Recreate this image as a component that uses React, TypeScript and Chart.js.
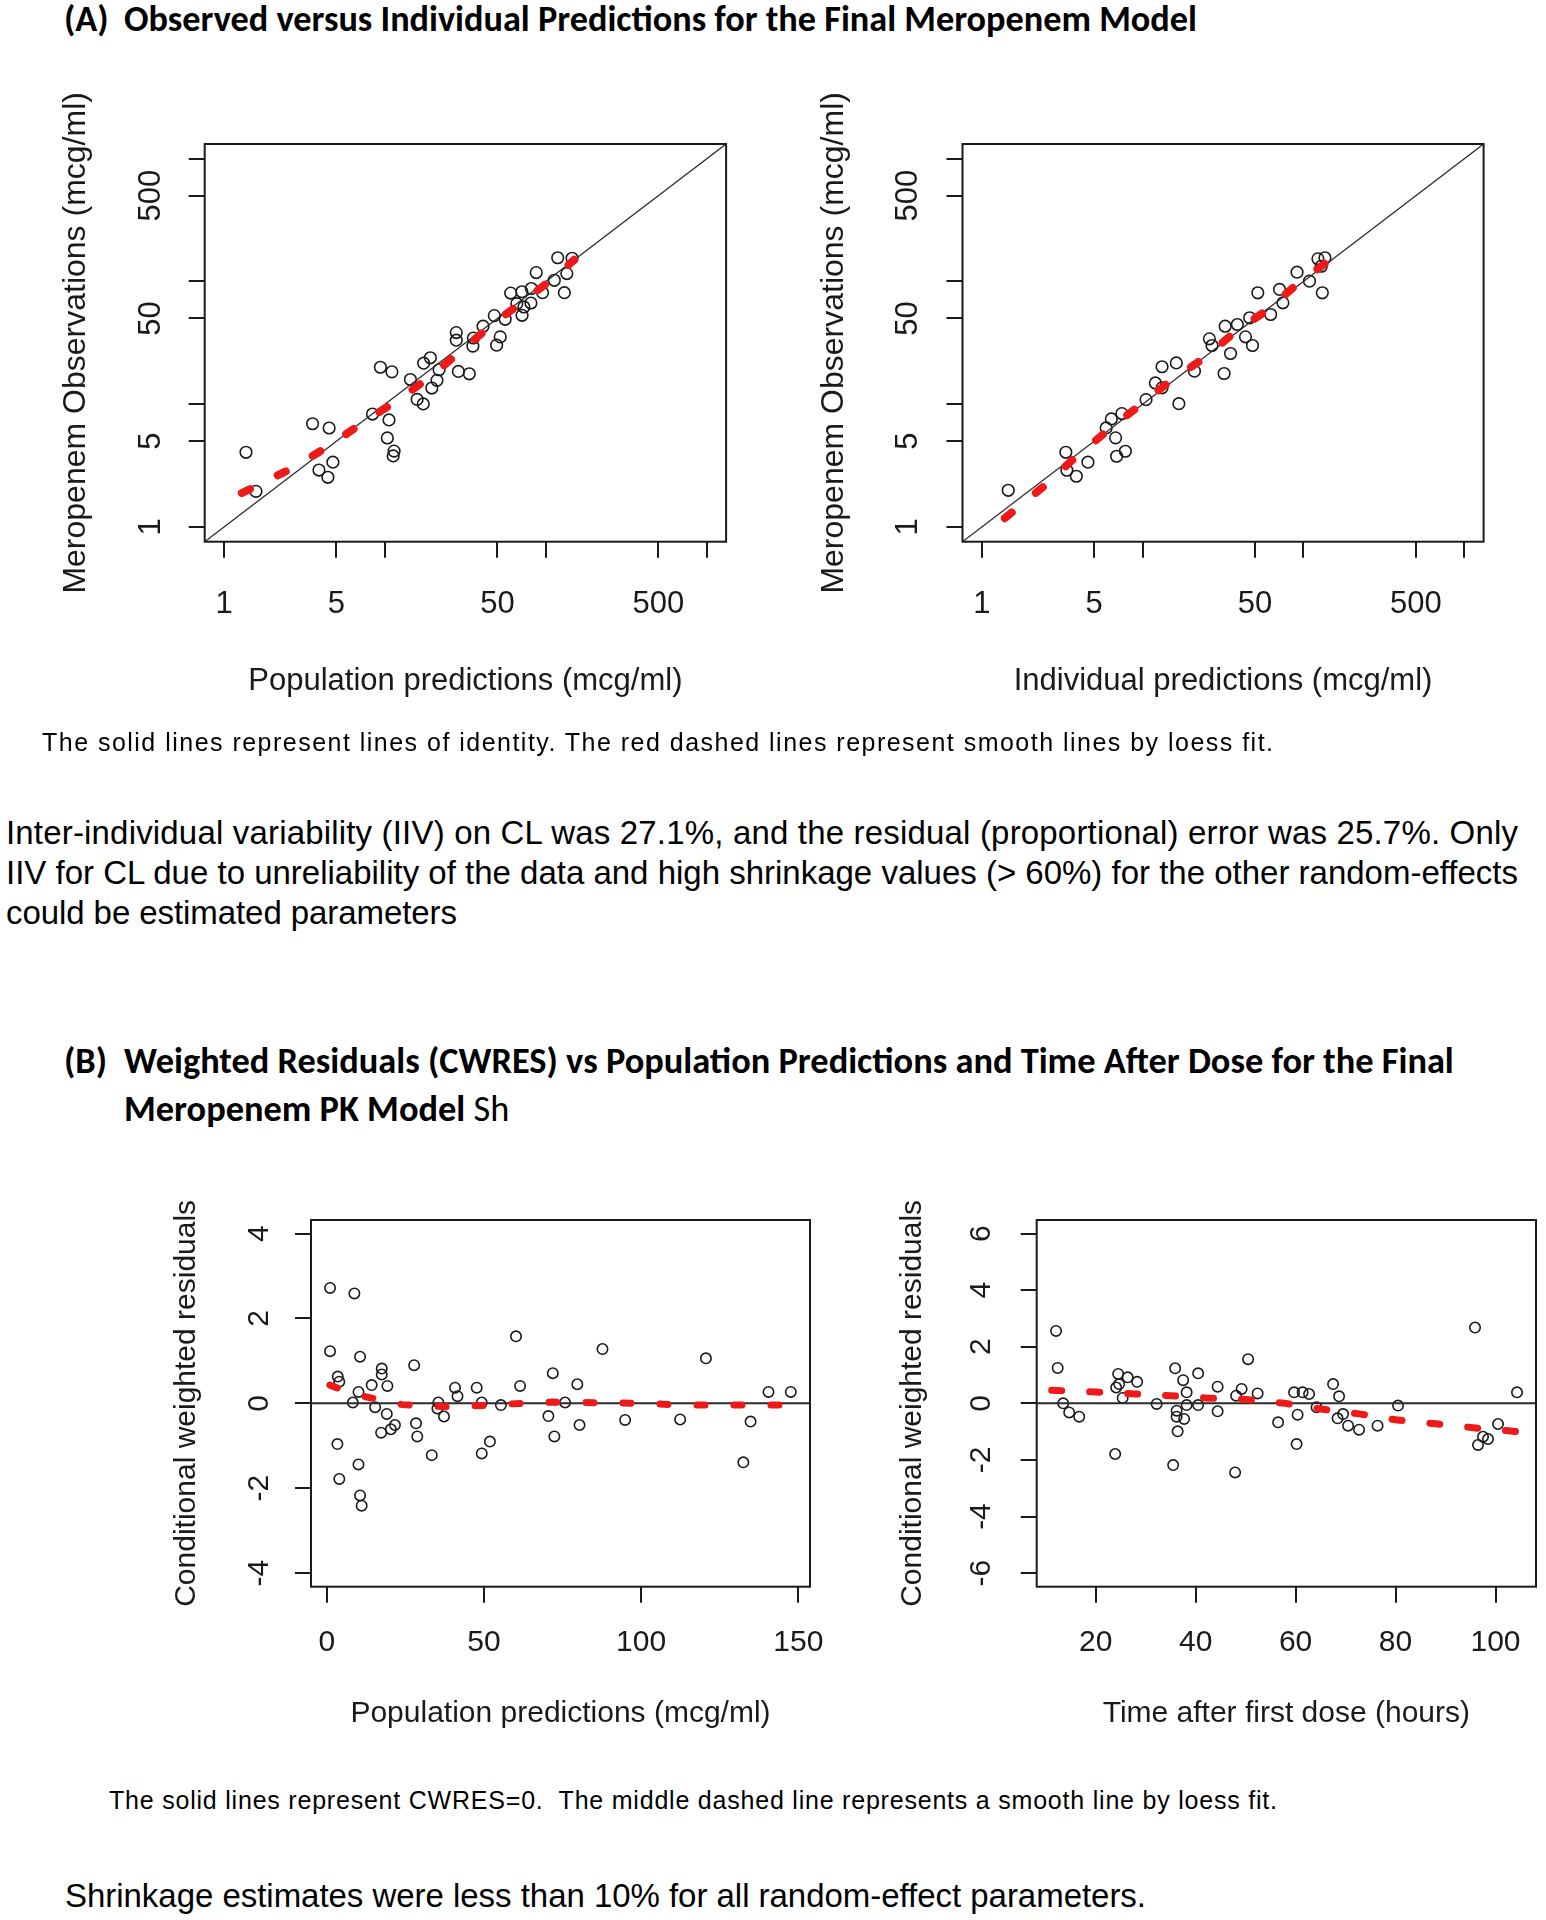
import React, { useEffect, useLayoutEffect, useRef } from "react";
import { Chart, registerables } from "chart.js";
Chart.register(...registerables);

const FONT = '"Liberation Sans", Arial, Helvetica, sans-serif';
const HEAD = 'Carlito, Lato, "Open Sans", sans-serif';
const RED = "#ee1a1a";
const INK = "#1a1a1a";

// ---------- (A) left: observed vs population predictions (mcg/ml)
const popPredX = [1.37, 1.58, 3.55, 4.5, 3.89, 4.42, 4.75, 8.37, 10.6, 10.35, 11.4, 11.25, 9.37, 11.05, 14.4, 15.85, 17.3, 17.4, 19.15, 21.7, 21.05, 19.55, 28.6, 33.45, 27.75, 27.75, 35.2, 35.45, 40.7, 47.8, 55.85, 52.05, 49.45, 60.45, 71.0, 81.2, 80.75, 71.15, 95.4, 87.15, 112.8, 130.3, 135, 118.5, 145.5, 66, 73];
const popObsY = [4.06, 1.95, 6.93, 6.4, 2.91, 2.54, 3.37, 8.32, 7.45, 5.31, 4.15, 3.79, 20.0, 18.35, 15.9, 10.95, 10.05, 21.6, 23.9, 19.1, 15.65, 13.55, 18.5, 17.7, 38.35, 33.25, 29.75, 34.65, 43.2, 52.7, 49.2, 35.35, 30.3, 80.45, 82.45, 87.65, 66.75, 53.0, 81.05, 118.15, 102.25, 81.05, 116, 156, 154.5, 66, 62];
const popLoessX = [1.29, 2.8, 4.62, 7.45, 12.2, 19.3, 30.4, 47.7, 75, 112, 150];
const popLoessY = [1.89, 3.12, 4.69, 7.22, 10.9, 16.9, 27.9, 46.0, 71.3, 107, 150];

// ---------- (A) right: observed vs individual predictions (mcg/ml)
const indPredX = [1.46, 3.33, 3.38, 3.87, 4.57, 6.89, 7.81, 5.93, 6.39, 7.43, 6.79, 10.5, 12.0, 13.2, 13.2, 16.2, 16.8, 21.0, 26.0, 27.0, 35.2, 32.1, 32.6, 38.8, 43.6, 48.2, 46.3, 52.0, 62.5, 71.0, 74.5, 91.2, 109, 123, 136, 129, 131];
const indObsY = [1.99, 4.06, 2.9, 2.59, 3.37, 3.77, 4.14, 6.41, 7.59, 8.39, 5.32, 10.9, 14.9, 13.6, 20.2, 21.7, 10.1, 18.6, 34.1, 30.1, 25.9, 17.8, 43.2, 44.6, 35.4, 30.1, 50.6, 80.9, 53.8, 86.1, 67.0, 119, 100.6, 153, 156, 133, 80.9];
const indLoessX = [1.39, 2.44, 3.78, 5.99, 9.55, 14.6, 24.7, 37, 58.9, 91, 147];
const indLoessY = [1.18, 2.15, 3.65, 6.03, 9.75, 15.2, 24.3, 38.2, 58, 94.6, 151];

// ---------- (B) left: CWRES vs population predictions
const cwPredX = [1.06, 1.06, 3.5, 4.0, 3.4, 4.0, 8.8, 10.6, 10.1, 8.3, 10.1, 10.6, 11.1, 14.3, 17.5, 17.5, 19.3, 15.4, 19.1, 21.7, 20.4, 17.3, 27.8, 28.4, 28.8, 33.4, 35.5, 35.2, 37.3, 40.8, 41.6, 47.7, 49.3, 51.9, 49.3, 55.4, 60.2, 61.5, 70.5, 72.4, 71.9, 75.8, 79.7, 80.4, 87.7, 94.9, 112.4, 120.6, 132.5, 134.8, 140.5, 147.6];
const cwPredY = [2.72, 1.23, 0.63, 0.51, -0.96, -1.78, 2.59, 1.1, 0.27, 0.02, -1.44, -2.17, -2.41, 0.43, 0.82, 0.68, 0.41, -0.09, -0.25, -0.51, -0.61, -0.69, 0.9, -0.47, -0.78, -1.22, 0.02, -0.12, -0.31, 0.37, 0.17, 0.37, 0.02, -0.9, -1.18, -0.04, 1.58, 0.41, -0.3, -0.78, 0.71, 0.02, 0.45, -0.51, 1.28, -0.39, -0.38, 1.06, -1.39, -0.43, 0.27, 0.27];
const cwLoessX = [1, 5.3, 12.2, 17, 24, 30, 38, 44, 52, 62, 72, 80, 90, 100, 110, 120, 135, 148];
const cwLoessY = [0.43, 0.31, 0.16, 0.08, -0.03, -0.05, -0.08, -0.07, -0.04, 0.0, 0.03, 0.02, 0.01, 0.0, -0.03, -0.04, -0.04, -0.04];

// ---------- (B) right: CWRES vs time after first dose (hours)
const tadX = [12.07, 12.4, 13.5, 14.7, 16.7, 23.9, 24.1, 24.5, 24.7, 25.4, 26.4, 28.3, 32.2, 35.9, 37.5, 38.2, 38.2, 36.2, 36.2, 37.7, 36.4, 35.5, 40.5, 40.5, 44.4, 44.4, 48.1, 49.2, 47.9, 50.5, 52.4, 56.5, 59.7, 60.4, 60.2, 61.4, 62.7, 64.2, 67.5, 68.7, 68.4, 69.5, 70.5, 72.7, 76.4, 80.5, 95.9, 96.5, 97.5, 98.5, 100.5, 104.3];
const tadY = [2.56, 1.25, 0, -0.32, -0.47, -1.79, 0.56, 1.04, 0.68, 0.19, 0.92, 0.76, -0.02, 1.24, 0.82, 0.39, -0.06, -0.26, -0.47, -0.55, -0.99, -2.18, 1.06, -0.06, 0.59, -0.28, 0.27, 0.51, -2.44, 1.56, 0.35, -0.67, 0.39, -0.4, -1.44, 0.39, 0.33, -0.14, 0.68, 0.25, -0.53, -0.38, -0.79, -0.93, -0.79, -0.08, 2.68, -1.47, -1.18, -1.26, -0.73, 0.39];
const tadLoessX = [11.2, 20, 28, 35, 42, 50, 58, 65, 73, 80, 88, 96, 104.5];
const tadLoessY = [0.46, 0.4, 0.33, 0.27, 0.19, 0.14, 0.0, -0.2, -0.38, -0.58, -0.72, -0.87, -1.0];

// ---------- axes
const logTicks = [1, 5, 10, 50, 100, 500, 1000];
const logTickLabels = ["1", "5", "", "50", "", "500", ""];
const logRange: [number, number] = [Math.pow(10, -0.12), Math.pow(10, 3.12)];
const cwXTicks = [0, 50, 100, 150];
const cwXLabels = ["0", "50", "100", "150"];
const cwXRange: [number, number] = [-5, 153.7];
const cwYTicks = [-4, -2, 0, 2, 4];
const cwYLabels = ["-4", "-2", "0", "2", "4"];
const cwYRange: [number, number] = [-4.32, 4.32];
const tadXTicks = [20, 40, 60, 80, 100];
const tadXLabels = ["20", "40", "60", "80", "100"];
const tadXRange: [number, number] = [8.2, 108.1];
const tadYTicks = [-6, -4, -2, 0, 2, 4, 6];
const tadYLabels = ["-6", "-4", "-2", "0", "2", "4", "6"];
const tadYRange: [number, number] = [-6.48, 6.48];

// ---------- text
const titleA = "Observed versus Individual Predictions for the Final Meropenem Model";
const titleB1 = "Weighted Residuals (CWRES) vs Population Predictions and Time After Dose for the Final";
const titleB2 = "Meropenem PK Model";

type Pt = { x: number; y: number };
const zip = (xs: number[], ys: number[]): Pt[] => xs.map((x, i) => ({ x, y: ys[i] }));

interface Spec {
  canvas: [number, number, number, number];
  box: [number, number, number, number];
  xLog: boolean;
  yLog: boolean;
  xRange: [number, number];
  yRange: [number, number];
  xTicks: number[];
  xLabels: string[];
  yTicks: number[];
  yLabels: string[];
  xTitle: string;
  yTitle: string;
  font: number;
  yTitleFont: number;
  off: [number, number, number, number];
  points: Pt[];
  loess: Pt[];
  ref: Pt[];
  radius: number;
  dash: [number, number];
  red: number;
  refWidth: number;
}

const specs: Spec[] = [
  {
    canvas: [30, 60, 740, 670],
    box: [204.7, 144, 726.1, 541.7],
    xLog: true, yLog: true, xRange: logRange, yRange: logRange,
    xTicks: logTicks, xLabels: logTickLabels, yTicks: logTicks, yLabels: logTickLabels,
    xTitle: "Population predictions (mcg/ml)", yTitle: "Meropenem Observations (mcg/ml)",
    font: 31, yTitleFont: 32, off: [60, 139, 56, 129.5],
    points: zip(popPredX, popObsY), loess: zip(popLoessX, popLoessY),
    ref: [{ x: logRange[0], y: logRange[0] }, { x: logRange[1], y: logRange[1] }],
    radius: 5.8, dash: [9, 31], red: 8, refWidth: 1.3,
  },
  {
    canvas: [790, 60, 740, 670],
    box: [962.5, 144, 1483.6, 541.7],
    xLog: true, yLog: true, xRange: logRange, yRange: logRange,
    xTicks: logTicks, xLabels: logTickLabels, yTicks: logTicks, yLabels: logTickLabels,
    xTitle: "Individual predictions (mcg/ml)", yTitle: "Meropenem Observations (mcg/ml)",
    font: 31, yTitleFont: 32, off: [60, 139, 56.7, 129],
    points: zip(indPredX, indObsY), loess: zip(indLoessX, indLoessY),
    ref: [{ x: logRange[0], y: logRange[0] }, { x: logRange[1], y: logRange[1] }],
    radius: 5.8, dash: [9, 31], red: 8, refWidth: 1.3,
  },
  {
    canvas: [150, 1200, 680, 545],
    box: [311, 1220, 810, 1586.7],
    xLog: false, yLog: false, xRange: cwXRange, yRange: cwYRange,
    xTicks: cwXTicks, xLabels: cwXLabels, yTicks: cwYTicks, yLabels: cwYLabels,
    xTitle: "Population predictions (mcg/ml)", yTitle: "Conditional weighted residuals",
    font: 30, yTitleFont: 30, off: [53.6, 126, 54, 125],
    points: zip(cwPredX, cwPredY), loess: zip(cwLoessX, cwLoessY),
    ref: [{ x: cwXRange[0], y: 0 }, { x: cwXRange[1], y: 0 }],
    radius: 5.2, dash: [8, 29], red: 7, refWidth: 2,
  },
  {
    canvas: [860, 1200, 686, 545],
    box: [1036.7, 1220, 1536, 1586.7],
    xLog: false, yLog: false, xRange: tadXRange, yRange: tadYRange,
    xTicks: tadXTicks, xLabels: tadXLabels, yTicks: tadYTicks, yLabels: tadYLabels,
    xTitle: "Time after first dose (hours)", yTitle: "Conditional weighted residuals",
    font: 30, yTitleFont: 30, off: [53.6, 126, 57.4, 124.7],
    points: zip(tadX, tadY), loess: zip(tadLoessX, tadLoessY),
    ref: [{ x: tadXRange[0], y: 0 }, { x: tadXRange[1], y: 0 }],
    radius: 5.2, dash: [10, 28], red: 7, refWidth: 2,
  },
];

function makeAxesPlugin(s: Spec) {
  return {
    id: "rAxes",
    afterDraw(chart: any) {
      const { ctx, chartArea: a, scales } = chart;
      ctx.save();
      ctx.strokeStyle = INK;
      ctx.lineWidth = 2;
      ctx.strokeRect(a.left, a.top, a.right - a.left, a.bottom - a.top);
      ctx.fillStyle = INK;
      ctx.font = `${s.font}px ${FONT}`;
      ctx.textAlign = "center";
      ctx.textBaseline = "alphabetic";
      const cap = (0.716 * s.font) / 2;
      s.xTicks.forEach((v, i) => {
        const lab = s.xLabels[i];
        if (!lab) return;
        ctx.fillText(lab, scales.x.getPixelForValue(v), a.bottom + s.off[0] + cap);
      });
      s.yTicks.forEach((v, i) => {
        const lab = s.yLabels[i];
        if (!lab) return;
        ctx.save();
        ctx.translate(a.left - s.off[2], scales.y.getPixelForValue(v));
        ctx.rotate(-Math.PI / 2);
        ctx.fillText(lab, 0, cap);
        ctx.restore();
      });
      const mid = 0.3 * s.font;
      ctx.fillText(s.xTitle, (a.left + a.right) / 2, a.bottom + s.off[1] + mid);
      ctx.font = `${s.yTitleFont}px ${FONT}`;
      ctx.save();
      ctx.translate(a.left - s.off[3], (a.top + a.bottom) / 2);
      ctx.rotate(-Math.PI / 2);
      ctx.fillText(s.yTitle, 0, 0.3 * s.yTitleFont);
      ctx.restore();
      ctx.restore();
    },
  };
}

function axis(log: boolean, range: [number, number], ticks: number[], position: "left" | "bottom") {
  return {
    type: log ? "logarithmic" : "linear",
    position,
    min: range[0],
    max: range[1],
    bounds: "data",
    afterBuildTicks: (sc: any) => {
      sc.ticks = ticks.map((v) => ({ value: v }));
    },
    afterFit: (sc: any) => {
      if (position === "left") sc.width = 0;
      else sc.height = 0;
    },
    ticks: { display: false },
    grid: {
      display: true,
      drawOnChartArea: false,
      drawTicks: true,
      tickLength: 16,
      tickWidth: 2,
      tickColor: INK,
      lineWidth: 2,
      color: INK,
    },
    border: { display: false },
  } as any;
}

function Panel({ s }: { s: Spec }) {
  const ref = useRef<HTMLCanvasElement>(null);
  const [cl, ct, cw, ch] = s.canvas;
  useEffect(() => {
    const [bl, bt, br, bb] = s.box;
    const chart = new Chart(ref.current as HTMLCanvasElement, {
      type: "scatter",
      data: {
        datasets: [
          {
            data: s.loess,
            showLine: true,
            borderColor: RED,
            borderWidth: s.red,
            borderDash: s.dash,
            borderCapStyle: "round",
            pointRadius: 0,
            order: 0,
          } as any,
          {
            data: s.ref,
            showLine: true,
            borderColor: "#2a2a2a",
            borderWidth: s.refWidth,
            pointRadius: 0,
            order: 1,
          } as any,
          {
            data: s.points,
            showLine: false,
            pointRadius: s.radius,
            pointHoverRadius: s.radius,
            pointBorderWidth: 1.6,
            pointBorderColor: INK,
            pointBackgroundColor: "rgba(0,0,0,0)",
            order: 2,
          } as any,
        ],
      },
      options: {
        animation: false,
        responsive: false,
        maintainAspectRatio: false,
        events: [],
        layout: { padding: { left: bl - cl, top: bt - ct, right: cl + cw - br, bottom: ct + ch - bb } },
        plugins: { legend: { display: false }, tooltip: { enabled: false } },
        scales: {
          x: axis(s.xLog, s.xRange, s.xTicks, "bottom"),
          y: axis(s.yLog, s.yRange, s.yTicks, "left"),
        },
      } as any,
      plugins: [makeAxesPlugin(s)],
    });
    return () => chart.destroy();
  }, [s]);
  return (
    <canvas
      ref={ref}
      width={cw}
      height={ch}
      style={{ position: "absolute", left: cl, top: ct, width: cw, height: ch }}
    />
  );
}

let measureCtx: CanvasRenderingContext2D | null = null;
function measure(text: string, font: string): number {
  if (!measureCtx) measureCtx = document.createElement("canvas").getContext("2d");
  if (!measureCtx) return 0;
  measureCtx.font = font;
  return measureCtx.measureText(text).width;
}
// font size (px) so that a bold heading line has the given width
function headSize(text: string, width: number): number {
  const w = measure(text, `700 30px ${HEAD}`);
  return w > 0 ? (30 * width) / w : 30;
}

function TextLine(props: {
  left: number;
  baseline: number;
  size: number;
  family?: string;
  weight?: number;
  width?: number;
  k?: number;
  children: React.ReactNode;
}) {
  const { left, baseline, size, family = FONT, weight = 400, width, k = 0.3465, children } = props;
  const ref = useRef<HTMLDivElement>(null);
  useLayoutEffect(() => {
    const el = ref.current;
    if (!el || !width) return;
    const fit = () => {
      el.style.letterSpacing = "0px";
      const w = el.getBoundingClientRect().width;
      const n = (el.textContent || "").length;
      if (n > 1) el.style.letterSpacing = `${(width - w) / (n - 1)}px`;
    };
    fit();
    if ((document as any).fonts && (document as any).fonts.ready) (document as any).fonts.ready.then(fit);
  }, [width]);
  const L = Math.round(size * 1.25);
  return (
    <div
      ref={ref}
      style={{
        position: "absolute",
        left,
        top: baseline - L / 2 - k * size,
        fontFamily: family,
        fontSize: size,
        fontWeight: weight,
        lineHeight: `${L}px`,
        whiteSpace: "pre",
        color: "#000",
      }}
    >
      {children}
    </div>
  );
}

export default function App() {
  const sA = headSize(titleA, 1073);
  const sB = headSize(titleB1, 1330);
  return (
    <div
      style={{
        position: "absolute",
        left: 0,
        top: 0,
        width: 1546,
        height: 1920,
        background: "#fff",
        overflow: "hidden",
      }}
    >
      <TextLine left={64} baseline={32} size={sA} family={HEAD} weight={700} k={0.36}>(A)</TextLine>
      <TextLine left={124} baseline={32} size={sA} family={HEAD} weight={700} k={0.36}>{titleA}</TextLine>

      <Panel s={specs[0]} />
      <Panel s={specs[1]} />

      <TextLine left={42} baseline={751} size={25} width={1231}>
        The solid lines represent lines of identity. The red dashed lines represent smooth lines by loess fit.
      </TextLine>

      <TextLine left={6} baseline={844} size={33} width={1512}>
        Inter-individual variability (IIV) on CL was 27.1%, and the residual (proportional) error was 25.7%. Only
      </TextLine>
      <TextLine left={6} baseline={884} size={33} width={1512}>
        IIV for CL due to unreliability of the data and high shrinkage values (&gt; 60%) for the other random-effects
      </TextLine>
      <TextLine left={6} baseline={924} size={33} width={451}>
        could be estimated parameters
      </TextLine>

      <TextLine left={64} baseline={1073.5} size={sB} family={HEAD} weight={700} k={0.36}>(B)</TextLine>
      <TextLine left={124} baseline={1073.5} size={sB} family={HEAD} weight={700} k={0.36}>{titleB1}</TextLine>
      <TextLine left={124} baseline={1121.5} size={sB} family={HEAD} weight={700} k={0.36}>
        {titleB2}<span style={{ fontWeight: 400 }}> Sh</span>
      </TextLine>

      <Panel s={specs[2]} />
      <Panel s={specs[3]} />

      <TextLine left={109} baseline={1809.5} size={25} width={1168}>
        The solid lines represent CWRES=0.  The middle dashed line represents a smooth line by loess fit.
      </TextLine>
      <TextLine left={65} baseline={1907} size={33} width={1081}>
        Shrinkage estimates were less than 10% for all random-effect parameters.
      </TextLine>
    </div>
  );
}
